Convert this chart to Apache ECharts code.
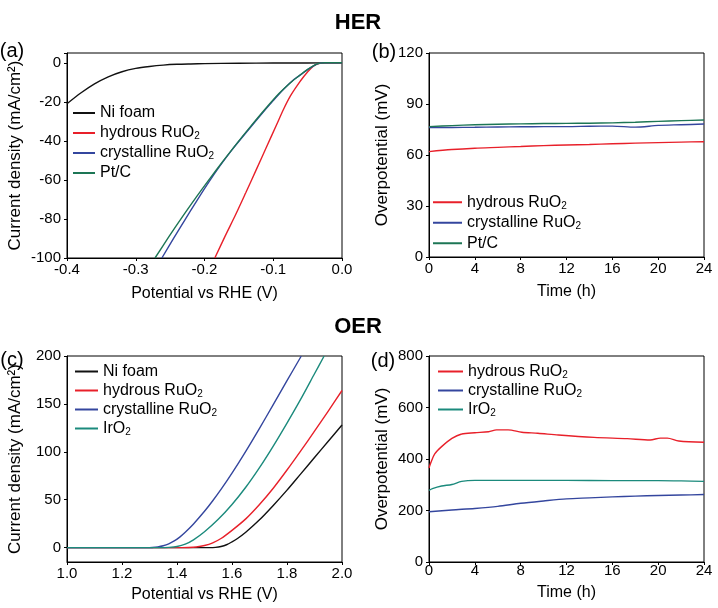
<!DOCTYPE html>
<html><head><meta charset="utf-8">
<script src="https://cdn.jsdelivr.net/npm/echarts@6/dist/echarts.min.js"></script>
<style>html,body{margin:0;padding:0;background:#fff}#c{width:718px;height:608px}</style>
</head><body><div id="c"></div>
<script>
// ---------- (a) HER polarization ----------
const aNiX  = [-0.4,-0.38,-0.36,-0.34,-0.32,-0.3,-0.28,-0.26,-0.24,-0.22,-0.2,-0.15,-0.1,-0.05,0];
const aNiY  = [-21,-15.5,-10.8,-7.2,-4.6,-2.9,-1.9,-1.2,-0.8,-0.6,-0.45,-0.25,-0.15,-0.1,0];
const aHydX = [-0.185,-0.17,-0.155,-0.14,-0.125,-0.11,-0.095,-0.085,-0.075,-0.065,-0.055,-0.045,-0.038,-0.032,-0.025,0];
const aHydY = [-100,-88.8,-78,-66.6,-55,-43.3,-31.6,-23.8,-17,-11.6,-6.8,-2.8,-1.0,-0.3,0,0];
const aCryX = [-0.262,-0.245,-0.228,-0.211,-0.194,-0.177,-0.16,-0.14,-0.12,-0.1,-0.085,-0.07,-0.06,-0.05,-0.04,-0.032,-0.025,0];
const aCryY = [-100,-90,-80.2,-70.6,-61.3,-52.6,-44.6,-36,-27.5,-19.4,-13.6,-8.6,-6.1,-3.5,-1.3,-0.2,0,0];
const aPtX  = [-0.272,-0.252,-0.232,-0.212,-0.192,-0.172,-0.152,-0.132,-0.112,-0.092,-0.075,-0.06,-0.05,-0.04,-0.032,-0.025,0];
const aPtY  = [-100,-89.2,-78.8,-68.8,-59.2,-49.9,-40.9,-32.2,-23.8,-15.9,-10.2,-6,-3.4,-1.2,-0.2,0,0];
// ---------- (b) HER stability ----------
const bT    = [0,2,4,6,8,10,12,14,16,18,20,22,24];
const bHydY = [62,63.2,64,64.5,65,65.5,65.9,66.2,66.6,67,67.3,67.6,67.8];
const bCryY = [76.1,76.2,76.3,76.5,76.6,76.7,76.7,76.9,77,76.4,77.4,77.8,78.2];
const bPtY  = [76.7,77.3,77.8,78.1,78.3,78.5,78.6,78.7,78.9,79.3,79.8,80.2,80.6];
// ---------- (c) OER polarization ----------
const cNiX  = [1.0,1.52,1.54,1.56,1.58,1.6,1.62,1.65,1.7,1.75,1.8,1.85,1.9,1.95,2.0];
const cNiY  = [0,0,0.3,1.2,3,6,9.5,16,29,44,60,77,94,111,128];
const cHydX = [1.0,1.42,1.44,1.47,1.5,1.53,1.56,1.6,1.65,1.7,1.75,1.8,1.85,1.9,1.95,2.0];
const cHydY = [0,0,0.1,0.7,2.2,5,9.5,18,30,45,62,81,101,121.5,142.5,164];
const cCryX = [1.0,1.2,1.29,1.31,1.33,1.35,1.37,1.39,1.41,1.43,1.46,1.5,1.53,1.56,1.6,1.65,1.7,1.75,1.8,1.852];
const cCryY = [0,0,0,0.2,0.8,2,4,7,11,16,24.7,37.9,48.9,60.7,77.7,100.5,124.5,149.2,174.2,200];
const cIrX  = [1.0,1.34,1.37,1.4,1.43,1.46,1.5,1.55,1.6,1.65,1.7,1.75,1.8,1.85,1.9,1.935];
const cIrY  = [0,0,0.3,1.2,3.6,8.1,16.5,29.5,45,63,83.5,106,130,155,181.5,200];
// ---------- (d) OER stability ----------
const dHydT = [0,0.15,0.5,1.1,2,2.85,4,5.2,5.9,6.9,8.1,9.5,11.3,14.4,17.3,19.3,20.2,20.8,21.8,24];
const dHydY = [365,385,420,448,480,497,502,506,513,513,504,500,493,484,479,474,481,481,470,465];
const dIrT  = [0,0.3,1.1,2,2.85,4,8,12,16,20,22,24];
const dIrY  = [278,285,295,301,313,317,317,317,316,316,315,313];
const dCryT = [0,2,4,6,8,10,12,14,16,18,20,22,24];
const dCryY = [195,202,208,216,228,237,245,249,253,256,258,260,262];

const zip = (xs, ys) => xs.map((x, i) => [x, ys[i]]);
const FONT = 'Liberation Sans, Arial, sans-serif';
const C = {ni:'#111111', hyd:'#e8202a', cry:'#34469e', pt:'#1d7655', ir:'#1b8a7c'};

function xAx(grid, min, max, interval, name, gap, margin, dec) {
  return {type:'value', gridIndex:grid, min, max, interval,
    name, nameLocation:'middle', nameGap:gap,
    nameTextStyle:{fontSize:16, color:'#000', fontFamily:FONT},
    axisLine:{show:true, onZero:false, lineStyle:{color:'#000', width:1}},
    axisTick:{show:true, inside:false, length:3, lineStyle:{color:'#000'}},
    axisLabel:{fontSize:15, color:'#000', fontFamily:FONT, margin,
      formatter: v => dec ? v.toFixed(dec) : String(Math.round(v))},
    splitLine:{show:false}};
}
function yAx(grid, min, max, interval, name, gap, extra) {
  const o = {type:'value', gridIndex:grid, min, max,
    name, nameLocation:'middle', nameGap:gap,
    nameTextStyle:{fontSize:17, color:'#000', fontFamily:FONT},
    axisLine:{show:true, onZero:false, lineStyle:{color:'#000', width:1}},
    axisTick:{show:true, inside:false, length:3, lineStyle:{color:'#000'}},
    axisLabel:{fontSize:15, color:'#000', fontFamily:FONT, margin:6,
      formatter: v => (v > max - 1e-9 && max % (interval||50) !== 0) ? '' : String(Math.round(v))},
    splitLine:{show:false}};
  if (interval) o.interval = interval;
  if (extra) { Object.assign(o.axisTick, extra.tick); Object.assign(o.axisLabel, extra.label); }
  return o;
}
function ser(name, xi, data, color) {
  return {type:'line', name, xAxisIndex:xi, yAxisIndex:xi, data, showSymbol:false, symbol:'none',
    smooth:0.3, lineStyle:{color, width:1.4}, itemStyle:{color}, z:3};
}
const subFmt = n => n.replace(/(RuO|IrO)2/, '$1{s|2}');
function leg(left, top, data, iw, lh) {
  return {orient:'vertical', left, top, data, icon:'rect', itemWidth:iw, itemHeight:2, itemGap:0,
    selectedMode:false, padding:0, formatter:subFmt,
    textStyle:{fontSize:16, color:'#000', fontFamily:FONT, lineHeight:lh,
      rich:{s:{fontSize:10, fontFamily:FONT, color:'#000', padding:[7,0,0,0]}}}};
}
const txt = (text, left, top, size, bold) => ({text, left, top, textAlign:'center', padding:0,
  textStyle:{fontSize:size, fontWeight: bold ? 'bold' : 'normal', color:'#000', fontFamily:FONT}});

const chart = echarts.init(document.getElementById('c'), null, {renderer:'canvas'});
chart.setOption({
  backgroundColor:'#fff',
  animation:false,
  title:[txt('HER',358,12,22,true), txt('OER',358,316,22,true),
         txt('(a)',12,41,20), txt('(b)',384,42,20), txt('(c)',12,350,20), txt('(d)',383,351,20)],
  grid:[
    {left:67, top:53, width:275, height:205, show:true, borderColor:'#000', borderWidth:1, containLabel:false},
    {left:429, top:53, width:275, height:204, show:true, borderColor:'#000', borderWidth:1},
    {left:67, top:356, width:275, height:206, show:true, borderColor:'#000', borderWidth:1},
    {left:429, top:356, width:275, height:206, show:true, borderColor:'#000', borderWidth:1}
  ],
  xAxis:[
    xAx(0,-0.4,0,0.1,'Potential vs RHE (V)',28,4,1),
    xAx(1,0,24,4,'Time (h)',27,4,0),
    xAx(2,1,2,0.2,'Potential vs RHE (V)',25,4,1),
    xAx(3,0,24,4,'Time (h)',23,1,0)
  ],
  yAxis:[
    yAx(0,-100,5,20,'Current density (mA/cm²)',43),
    yAx(1,0,120,30,'Overpotential (mV)',38),
    yAx(2,-15,200,null,'Current density (mA/cm²)',43,
      {tick:{customValues:[0,50,100,150,200]}, label:{customValues:[0,50,100,150,200]}}),
    yAx(3,0,800,200,'Overpotential (mV)',38)
  ],
  legend:[
    leg(73,103,['Ni foam','hydrous RuO2','crystalline RuO2','Pt/C'],22,20),
    leg(433,192,['hydrous RuO2','crystalline RuO2','Pt/C'],29,20.5),
    leg(75,362,['Ni foam','hydrous RuO2','crystalline RuO2','IrO2'],23,19),
    leg(438,362,['hydrous RuO2','crystalline RuO2','IrO2'],25,19)
  ],
  series:[
    ser('Ni foam',0,zip(aNiX,aNiY),C.ni),
    ser('hydrous RuO2',0,zip(aHydX,aHydY),C.hyd),
    ser('crystalline RuO2',0,zip(aCryX,aCryY),C.cry),
    ser('Pt/C',0,zip(aPtX,aPtY),C.pt),
    ser('hydrous RuO2',1,zip(bT,bHydY),C.hyd),
    ser('crystalline RuO2',1,zip(bT,bCryY),C.cry),
    ser('Pt/C',1,zip(bT,bPtY),C.pt),
    ser('Ni foam',2,zip(cNiX,cNiY),C.ni),
    ser('hydrous RuO2',2,zip(cHydX,cHydY),C.hyd),
    ser('crystalline RuO2',2,zip(cCryX,cCryY),C.cry),
    ser('IrO2',2,zip(cIrX,cIrY),C.ir),
    ser('hydrous RuO2',3,zip(dHydT,dHydY),C.hyd),
    ser('crystalline RuO2',3,zip(dCryT,dCryY),C.cry),
    ser('IrO2',3,zip(dIrT,dIrY),C.ir)
  ]
});
</script></body></html>
